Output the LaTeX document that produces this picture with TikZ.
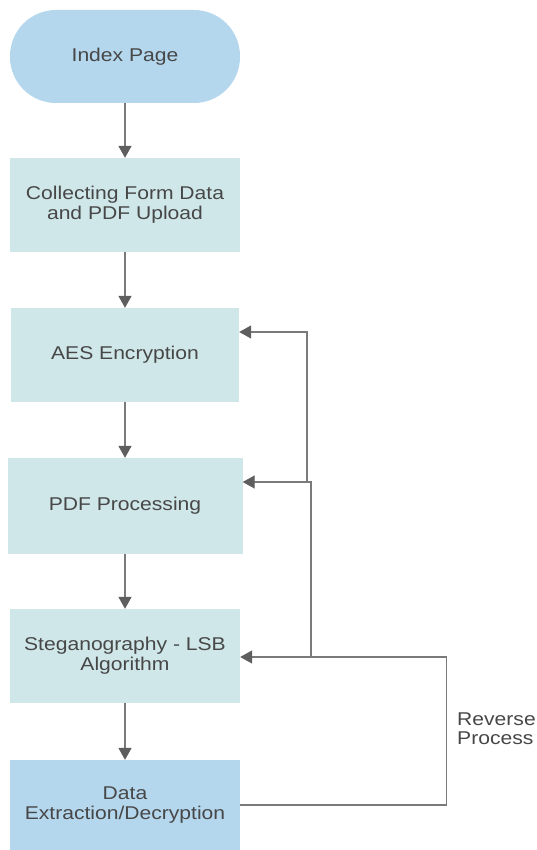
\documentclass[tikz,border=0pt]{standalone}
\usepackage{fontspec}
\setmainfont{Liberation Sans}[FakeStretch=1.14]
\usetikzlibrary{arrows.meta}
\definecolor{stadfill}{HTML}{B4D7EE}
\definecolor{procfill}{HTML}{CFE7E9}
\definecolor{linegray}{HTML}{7A7A7A}
\definecolor{tipgray}{HTML}{5E5E5E}
\definecolor{textgray}{HTML}{474747}
\tikzset{
    procbox/.style={fill=procfill, minimum width=230pt, minimum height=94pt, inner sep=0pt,
        text=textgray, align=center, font=\fontsize{18.5}{20}\selectfont},
    flowline/.style={draw=linegray, line width=1.6pt, -{Triangle[length=12pt,width=13pt,color=tipgray]}},
    backline/.style={draw=linegray, line width=1.4pt}
}
\begin{document}
\begin{tikzpicture}[x=1pt,y=-1pt]
        \useasboundingbox (0,0) rectangle (536,850);
        \node[procbox, fill=stadfill, rounded corners=46pt, minimum height=93pt] (index) at (125,56.5) {Index Page};
        \node[procbox] (collect) at (125,205) {Collecting Form Data\\and PDF Upload};
        \node[procbox, minimum width=228pt] (aes) at (125,355) {AES Encryption};
        \node[procbox, minimum width=235pt, minimum height=96pt] (pdf) at (125,506) {PDF Processing};
        \node[procbox] (steg) at (125,656) {Steganography - LSB\\Algorithm};
        \node[procbox, fill=stadfill, minimum height=90pt] (data) at (125,805) {Data\\Extraction/Decryption};
        \node[text=textgray, align=left, anchor=north west, inner sep=0pt,
            font=\fontsize{18.5}{19}\selectfont] (rev) at (457,713) {Reverse\\Process};
        % forward flow
        \draw[flowline] (index) -- (collect);
        \draw[flowline] (collect) -- (aes);
        \draw[flowline] (aes) -- (pdf);
        \draw[flowline] (pdf) -- (steg);
        \draw[flowline] (steg) -- (data);
        % reverse process
        \coordinate (bend) at (446.5,657);
        \coordinate (split) at (311,657);
        \coordinate (split2) at (307,482);
        \draw[backline] (data.east) -| (bend);
        \draw[flowline, line width=1.4pt] (bend) -- (steg.east |- bend);
        \draw[flowline, line width=1.4pt] (split) |- (pdf.east |- split2);
        \draw[flowline, line width=1.4pt] (split2) |- (aes.east |- 0,332);
\end{tikzpicture}
\end{document}
